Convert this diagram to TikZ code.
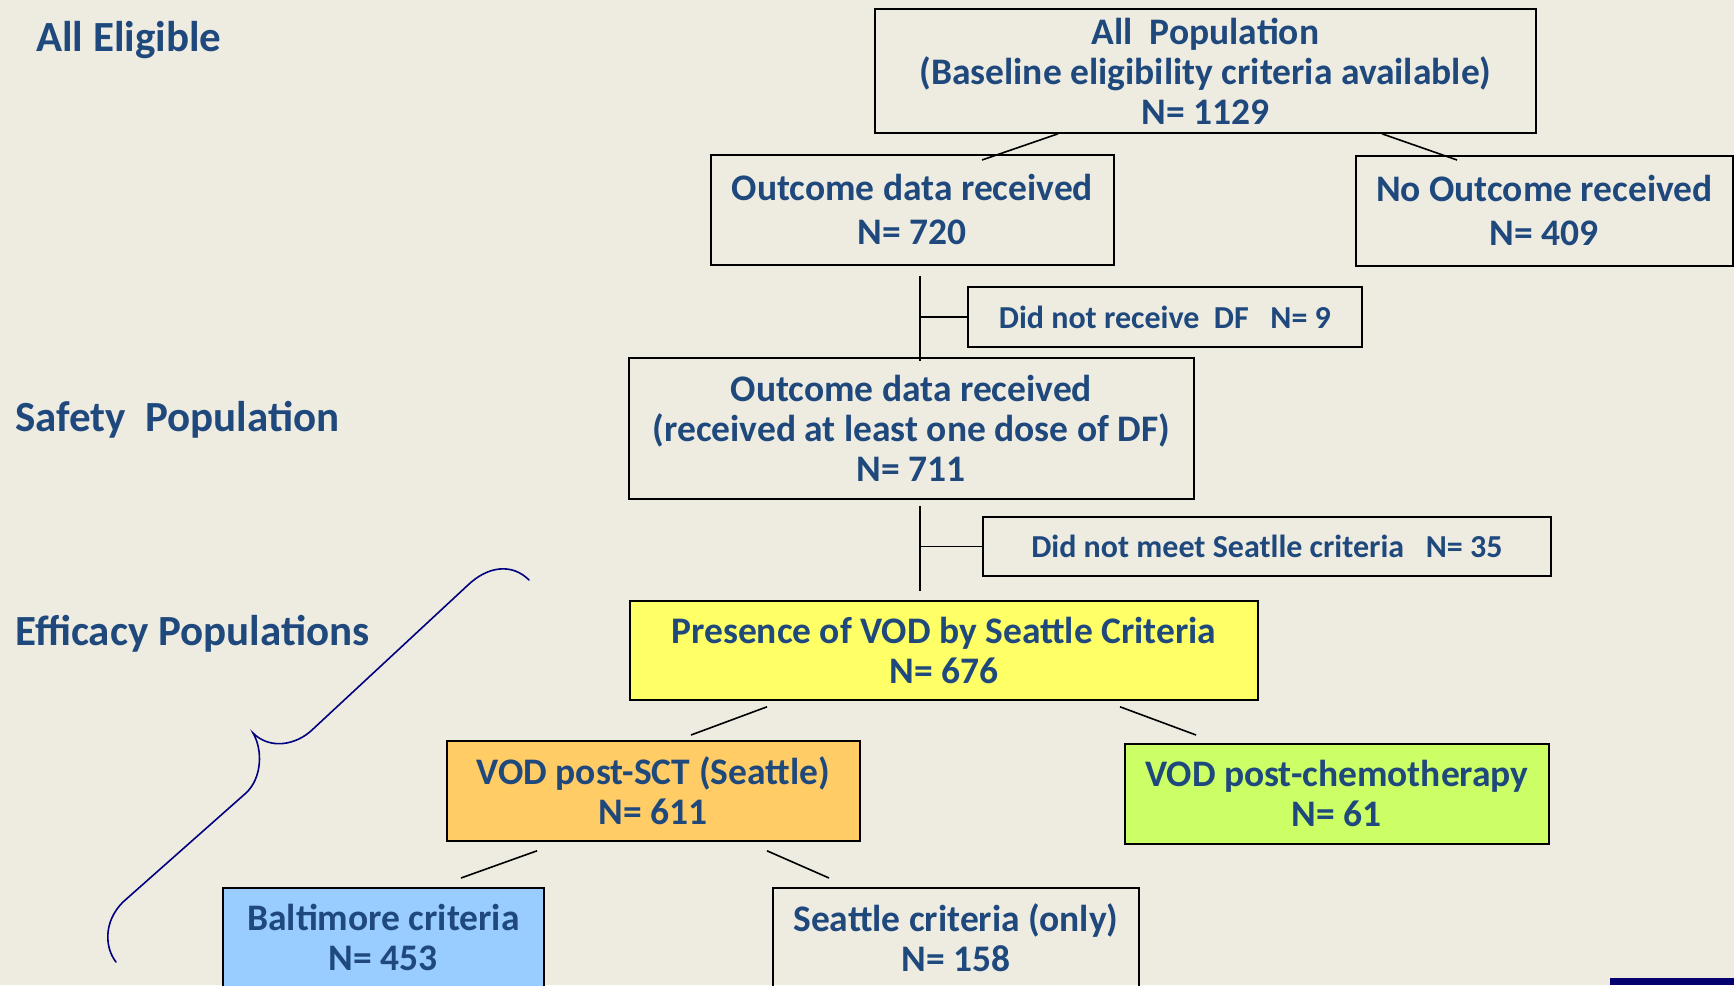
\documentclass[tikz,border=0pt]{standalone}
\usepackage{fontspec}
\setmainfont{Carlito}
\usetikzlibrary{calc}
\definecolor{bg}{HTML}{EEECE1}
\definecolor{txt}{HTML}{1F497D}
\definecolor{yel}{HTML}{FFFF66}
\definecolor{org}{HTML}{FFCC66}
\definecolor{grn}{HTML}{CCFF66}
\definecolor{lblue}{HTML}{99CCFF}
\definecolor{navyb}{HTML}{000080}
\definecolor{navybar}{HTML}{050070}
\begin{document}
\begin{tikzpicture}[x=1pt,y=-1pt,
  box/.style={draw=black,line width=1.8pt,anchor=north west,inner sep=0pt,align=center,text=txt,font=\bfseries\fontsize{37.5}{40}\selectfont},
  sidebox/.style={box,font=\bfseries\fontsize{32}{36}\selectfont},
  conn/.style={line width=1.6pt,draw=black},
  lbl/.style={anchor=base west,inner sep=0pt,text=txt,font=\bfseries\fontsize{43}{48}\selectfont},
  bracestyle/.style={draw=navyb,line width=1.6pt,line cap=round}]
\useasboundingbox (0,0) rectangle (1734,985);
\fill[bg] (0,0) rectangle (1734,985);
\clip (0,0) rectangle (1734,985);

% left labels
\node[lbl] (lelig) at (36,51) {All Eligible};
\node[lbl] (lsafe) at (15,431) {Safety~~Population};
\node[lbl] (leff) at (15,645) {Efficacy Populations};

% boxes
\node[box,minimum width=661pt,minimum height=124pt] (all) at (874,8)
  {All~~Population\\(Baseline eligibility criteria available)\\N= 1129};
\node[box,minimum width=403pt,minimum height=110pt] (out1) at (710,154)
  {Outcome data received\\[4pt]N= 720};
\node[box,minimum width=377pt,minimum height=110pt] (noout) at (1355,155)
  {No Outcome received\\[4pt]N= 409};
\node[sidebox,minimum width=394pt,minimum height=60pt] (dnr) at (967,286)
  {Did not receive~~DF~~~N= 9};
\node[box,minimum width=565pt,minimum height=141pt] (out2) at (628,357)
  {Outcome data received\\(received at least one dose of DF)\\N= 711};
\node[sidebox,minimum width=568pt,minimum height=59pt] (dnm) at (982,516)
  {Did not meet Seatlle criteria~~~N= 35};
\node[box,fill=yel,minimum width=628pt,minimum height=99pt] (pres) at (629,600)
  {Presence of VOD by Seattle Criteria\\N= 676};
\node[box,fill=org,minimum width=413pt,minimum height=100pt] (sct) at (446,740)
  {VOD post-SCT (Seattle)\\N= 611};
\node[box,fill=grn,minimum width=424pt,minimum height=100pt] (chemo) at (1124,743)
  {VOD post-chemotherapy\\N= 61};
\node[box,fill=lblue,minimum width=321pt,minimum height=100pt] (balt) at (222,887)
  {Baltimore criteria\\N= 453};
\node[box,minimum width=366pt,minimum height=100pt] (sonly) at (772,887)
  {Seattle criteria (only)\\N= 158};

% connectors
\draw[conn] ([xshift=184pt]all.south west) -- ([xshift=272pt,yshift=-6pt]out1.north west);
\draw[conn] ([xshift=508pt]all.south west) -- ([xshift=102pt,yshift=-5pt]noout.north west);

\coordinate (v1a) at ([xshift=210pt,yshift=-10pt]out1.south west);
\draw[conn] (v1a) -- ([xshift=292pt,yshift=-4pt]out2.north west);
\draw[conn] (dnr.west) -- (dnr.west -| v1a);

\coordinate (v2a) at ([xshift=292pt,yshift=-6pt]out2.south west);
\draw[conn] (v2a) -- ([xshift=291pt,yshift=9pt]pres.north west);
\draw[conn] (dnm.west) -- (dnm.west -| v2a);

\draw[conn] ([xshift=138pt,yshift=-6pt]pres.south west) -- ([xshift=245pt,yshift=5pt]sct.north west);
\draw[conn] ([xshift=491pt,yshift=-6pt]pres.south west) -- ([xshift=72pt,yshift=8pt]chemo.north west);
\draw[conn] ([xshift=91pt,yshift=-9pt]sct.south west) -- ([xshift=239pt,yshift=9pt]balt.north west);
\draw[conn] ([xshift=321pt,yshift=-9pt]sct.south west) -- ([xshift=57pt,yshift=9pt]sonly.north west);

% brace
\draw[bracestyle] (529,580) .. controls (512,563) and (488,566) .. (468,585)
  -- (312,730) .. controls (296,745) and (270,750) .. (253,733)
  .. controls (263,750) and (262,778) .. (246,793)
  -- (123,902) .. controls (103,922) and (105,948) .. (116,962);

% corner bar
\fill[navybar] (1610,978) rectangle (1734,985);
\end{tikzpicture}
\end{document}
